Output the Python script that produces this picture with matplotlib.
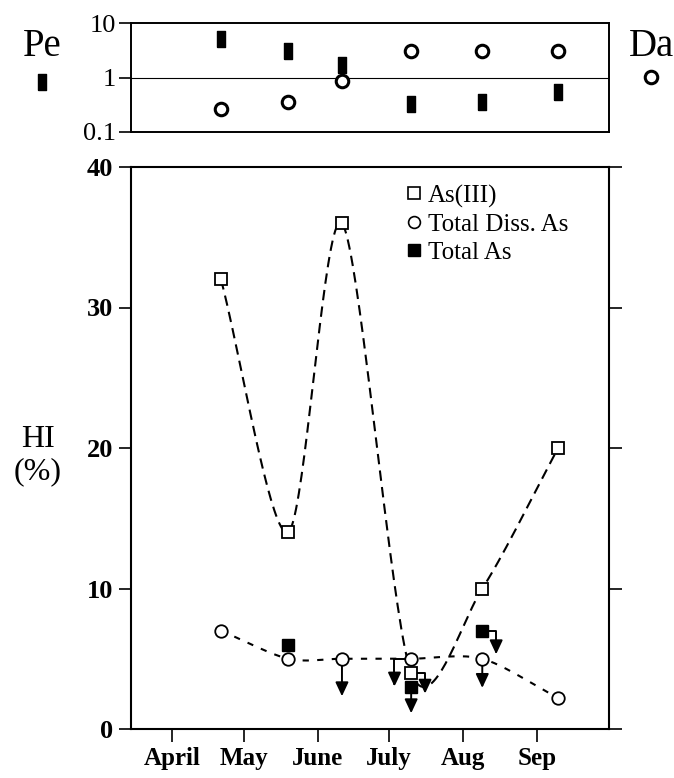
import matplotlib
matplotlib.use("Agg")
import matplotlib.pyplot as plt
import numpy as np
from matplotlib.lines import Line2D

plt.rcParams['font.family'] = ['Liberation Serif', 'DejaVu Serif']

# sampling dates as day of year, month ticks at the 15th
sample_day = [125.5, 153.6, 176.2, 205.2, 235.0, 266.8]
month_day = [105, 135, 166, 196, 227, 258]
month_labels = ["April", "May", "June", "July", "Aug", "Sep"]

# HI (%) values
hi_as3 = [32, 14, 36, 4, 10, 20]
hi_diss = [7, 5, 5, 5, 5, 2.2]
total_day = [153.6, 205.2, 235.0]
hi_total = [6, 3, 7]

# below-detection flags (drawn as arrows)
as3_lt = ["", "", "", "right", "", ""]
diss_lt = ["", "", "down", "left", "down", ""]
total_lt = ["", "down", "right"]

# Peclet / Damkohler numbers
pe = [5.0, 3.0, 1.7, 0.32, 0.35, 0.55]
da = [0.26, 0.35, 0.88, 3.0, 3.0, 3.0]


def smooth(x, y, n=40, k=0.85):
    # catmull-rom style curve through the points (spreadsheet smoothed line)
    x = np.asarray(x, float)
    y = np.asarray(y, float)
    px = np.concatenate([[2 * x[0] - x[1]], x, [2 * x[-1] - x[-2]]])
    py = np.concatenate([[2 * y[0] - y[1]], y, [2 * y[-1] - y[-2]]])
    t = np.linspace(0, 1, n)[:, None]
    xs, ys = [], []
    for i in range(1, len(px) - 2):
        P = np.array([[px[i - 1], py[i - 1]], [px[i], py[i]],
                      [px[i + 1], py[i + 1]], [px[i + 2], py[i + 2]]])
        c1 = P[1] + k * (P[2] - P[0]) / 6.0
        c2 = P[2] - k * (P[3] - P[1]) / 6.0
        B = ((1 - t) ** 3) * P[1] + 3 * ((1 - t) ** 2) * t * c1 \
            + 3 * (1 - t) * t ** 2 * c2 + t ** 3 * P[2]
        xs.extend(B[:, 0])
        ys.extend(B[:, 1])
    return np.array(xs), np.array(ys)


# arrow geometry per side: (dx, drop) in points
arrow_geom = {"down": (0, 27), "left": (-12, 20), "right": (10, 15)}


def lt_arrow(ax, x, y, side, drop=None, shrink=4.5):
    dx, dy = arrow_geom[side]
    if drop is not None:
        dy = drop
    conn = "arc3" if side == "down" else "angle,angleA=90,angleB=0,rad=0"
    ax.annotate("", xy=(x, y), xytext=(dx, -dy), textcoords="offset points",
                arrowprops=dict(arrowstyle="<|-,head_length=0.6,head_width=0.28",
                                color="k", lw=1.4, shrinkA=0, shrinkB=shrink,
                                mutation_scale=14, connectionstyle=conn),
                zorder=2)


fig = plt.figure(figsize=(6.74, 7.78), dpi=100)
ax = fig.add_axes([131 / 674, 1 - 729 / 778, 478 / 674, 562 / 778])
axt = fig.add_axes([131 / 674, 1 - 132 / 778, 478 / 674, 109 / 778])

xlim = (87.8, 288.1)
rect = [(-0.45, -1), (0.45, -1), (0.45, 1), (-0.45, 1), (-0.45, -1)]

# --- top panel: Pe and Da
axt.set_yscale("log")
axt.set_xlim(*xlim)
axt.set_ylim(0.1, 10)
axt.axhline(1, color="k", lw=0.8)
axt.plot(sample_day, pe, ls="none", marker=rect, ms=12, color="k", zorder=3)
axt.plot(sample_day, da, ls="none", marker="o", ms=9, mfc="white", mec="k",
         mew=2.2, zorder=4)
axt.set_xticks([])
axt.set_yticks([0.1, 1, 10], ["0.1", "1", "10"], fontsize=19)
axt.yaxis.set_minor_locator(matplotlib.ticker.NullLocator())
axt.tick_params(axis="y", direction="out", length=9, width=1.2, pad=2)
for s in axt.spines.values():
    s.set_linewidth(1.4)

fig.text(42 / 674, 1 - 47 / 778, "Pe", fontsize=28, ha="center", va="center")
fig.text(651 / 674, 1 - 47 / 778, "Da", fontsize=28, ha="center", va="center")
fig.add_artist(Line2D([42 / 674], [1 - 82 / 778], transform=fig.transFigure,
                      marker=rect, ms=12, color="k", ls="none"))
fig.add_artist(Line2D([651 / 674], [1 - 77 / 778], transform=fig.transFigure,
                      marker="o", ms=9, mfc="white", mec="k", mew=2.2, ls="none"))

# --- main panel: HI
cx, cy = smooth(sample_day, hi_as3)
ax.plot(cx, cy, color="k", lw=1.5, dashes=(5, 3), zorder=1)
cx, cy = smooth(sample_day, hi_diss)
ax.plot(cx, cy, color="k", lw=1.5, dashes=(3, 4), zorder=1)

ax.plot(sample_day, hi_as3, ls="none", marker="s", ms=8, mfc="white",
        mec="k", mew=1.3, zorder=4)
ax.plot(sample_day, hi_diss, ls="none", marker="o", ms=9, mfc="white",
        mec="k", mew=1.3, zorder=4)
ax.plot(total_day, hi_total, ls="none", marker="s", ms=8.5, color="k", zorder=3)

for d, v, s in zip(sample_day, hi_as3, as3_lt):
    if s:
        lt_arrow(ax, d, v, s, shrink=4)
for d, v, s in zip(sample_day, hi_diss, diss_lt):
    if s:
        lt_arrow(ax, d, v, s, drop=21 if s == "down" and d > 200 else None)
for d, v, s in zip(total_day, hi_total, total_lt):
    if s:
        lt_arrow(ax, d, v, s, drop=19 if s == "down" else 17, shrink=4)

ax.set_xlim(*xlim)
ax.set_ylim(0, 40)
ax.set_xticks(month_day, month_labels, fontsize=18, fontweight="bold")
ax.set_yticks([0, 10, 20, 30, 40], ["0", "10", "20", "30", "40"],
              fontsize=19, fontweight="bold")
ax.tick_params(direction="out", length=9, width=1.2, pad=4, right=True)
for s in ax.spines.values():
    s.set_linewidth(1.5)

fig.text(38 / 674, 1 - 456 / 778, "HI\n(%)", fontsize=23, ha="center",
         va="center", linespacing=1.15)

handles = [
    Line2D([], [], ls="none", marker="s", ms=8.5, mfc="white", mec="k", mew=1.2),
    Line2D([], [], ls="none", marker="o", ms=8.5, mfc="white", mec="k", mew=1.2),
    Line2D([], [], ls="none", marker="s", ms=8.5, color="k"),
]
ax.legend(handles, ["As(III)", "Total Diss. As", "Total As"], loc="upper left",
          bbox_to_anchor=(0.577, 0.969), frameon=False, fontsize=18,
          handlelength=0.6, handletextpad=0.25, labelspacing=0.22,
          borderaxespad=0, borderpad=0)

fig.savefig("out.png", dpi=100)
